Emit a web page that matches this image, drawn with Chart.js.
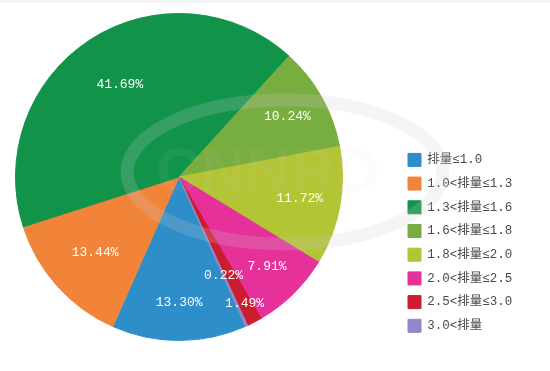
<!DOCTYPE html>
<html><head><meta charset="utf-8">
<script src="https://cdn.jsdelivr.net/npm/chart.js@4/dist/chart.umd.min.js"></script>
<style>html,body{margin:0;padding:0;background:#fff}#wrap{width:550px;height:371px;position:relative}</style>
</head><body><div id="wrap"><canvas id="c"></canvas></div>
<script>
const categories = ['排量≤1.0','1.0<排量≤1.3','1.3<排量≤1.6','1.6<排量≤1.8','1.8<排量≤2.0','2.0<排量≤2.5','2.5<排量≤3.0','3.0<排量'];
const shares = [13.30, 13.44, 41.69, 10.24, 11.72, 7.91, 1.49, 0.22];
const percentLabels = ['13.30%','13.44%','41.69%','10.24%','11.72%','7.91%','1.49%','0.22%'];

const sliceColors = ['#2e8ec9','#f2843a','#11944a','#78ad40','#b3c435','#e6309a','#cc1d2f','#9089c9'];
const labelRadius = [0.77, 0.69, 0.67, 0.76, 0.75, 0.77, 0.87, 0.66];

// keep pie centred at x=179 and place the legend column where the reference has it
const pieFrame = {
  id: 'pieFrame',
  afterLayout(chart) {
    const lg = chart.legend;
    const pad = chart.options.plugins.legend.labels.padding;
    const w = lg.width;
    lg.left = 408 - pad;
    lg.right = lg.left + w;
    lg.top += 2;
    lg.bottom += 2;
    const a = chart.chartArea;
    a.right = lg.left;
    a.left = 2 * 179 - a.right;
    a.width = a.right - a.left;
  }
};

const watermark = {
  id: 'watermark',
  beforeDraw(chart) {
    const ctx = chart.ctx;
    ctx.save();
    ctx.fillStyle = '#f3f3f3';
    ctx.fillRect(0, 0, chart.width, 3);
    ctx.restore();
  },
  afterDatasetsDraw(chart) {
    const ctx = chart.ctx;
    ctx.save();
    ctx.strokeStyle = 'rgba(205,205,205,0.2)';
    ctx.lineWidth = 13;
    ctx.beginPath();
    ctx.ellipse(285, 172, 158, 72, 0, 0, Math.PI * 2);
    ctx.stroke();
    ctx.fillStyle = 'rgba(215,215,215,0.07)';
    ctx.font = 'bold 62px "Liberation Sans", sans-serif';
    ctx.textAlign = 'center';
    ctx.textBaseline = 'middle';
    ctx.fillText('CNNRD', 268, 174);
    ctx.restore();
  }
};

const sliceLabels = {
  id: 'sliceLabels',
  afterDatasetsDraw(chart) {
    const ctx = chart.ctx;
    const meta = chart.getDatasetMeta(0);
    ctx.save();
    ctx.fillStyle = '#ffffff';
    ctx.font = '13px "Liberation Mono", "DejaVu Sans Mono", monospace';
    ctx.textAlign = 'center';
    ctx.textBaseline = 'middle';
    meta.data.forEach((arc, i) => {
      const p = arc.getProps(['x','y','startAngle','endAngle','outerRadius'], true);
      const mid = (p.startAngle + p.endAngle) / 2;
      const r = p.outerRadius * labelRadius[i];
      ctx.fillText(percentLabels[i], p.x + Math.cos(mid) * r, p.y + Math.sin(mid) * r);
    });
    ctx.restore();
  }
};

new Chart(document.getElementById('c'), {
  type: 'pie',
  data: {
    labels: categories,
    datasets: [{
      data: shares,
      backgroundColor: sliceColors,
      borderColor: sliceColors,
      borderWidth: 1
    }]
  },
  options: {
    responsive: true,
    maintainAspectRatio: false,
    animation: false,
    rotation: 156,
    layout: { padding: { top: 13, bottom: 30, left: 0, right: 27 } },
    plugins: {
      tooltip: { enabled: false },
      legend: {
        position: 'right',
        align: 'end',
        labels: {
          boxWidth: 13,
          boxHeight: 13,
          padding: 10.7,
          color: '#4a4a4a',
          font: { size: 12.5, family: '"Liberation Mono", "Noto Sans CJK SC", monospace' }
        }
      }
    }
  },
  plugins: [pieFrame, watermark, sliceLabels]
});
</script>
</body></html>
